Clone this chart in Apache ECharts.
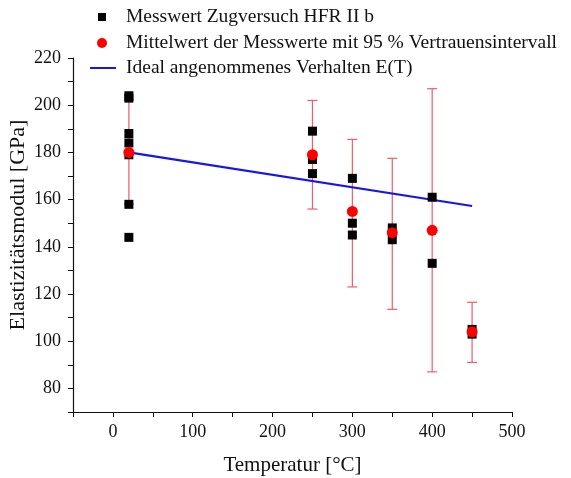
<!DOCTYPE html>
<html><head><meta charset="utf-8">
<script src="https://cdn.jsdelivr.net/npm/echarts@6/dist/echarts.min.js"></script>
<style>html,body{margin:0;padding:0;background:#fff}#c{width:571px;height:478px}</style>
</head><body><div id="c"></div>
<script>
var measTemp = [20,20,20,20,20,20,20, 250,250,250,250, 300,300,300, 350,350, 400,400, 450,450];
var measE    = [204,203,188,184,179,158,144, 189,177,178,171, 169,150,145, 148,143, 161,133, 105,103];
var meanTemp = [20,250,300,350,400,450];
var meanE    = [180,179,155,146,147,104];
var ciLow    = [158,156,123,113.5,87,91];
var ciHigh   = [202,202,185.5,177.5,207,116.5];
var idealTemp = [20,450];
var idealE    = [180,157.3];
var xTicks = [0,100,200,300,400,500];
var yTicks = [80,100,120,140,160,180,200,220];

var names = ['Messwert Zugversuch HFR II b','Mittelwert der Messwerte mit 95 % Vertrauensintervall','Ideal angenommenes Verhalten E(T)'];
var FONT = 'Liberation Serif';
var chart = echarts.init(document.getElementById('c'));
function ts(p){return {fontFamily:FONT,fontSize:19.5,color:'#111',padding:[0,0,0,p]};}
var legendBase = {orient:'vertical', itemGap:0};
chart.setOption({
  animation:false,
  backgroundColor:'#fff',
  legend:[
    Object.assign({}, legendBase, {top:2, left:93, data:[{name:names[0],icon:'rect'}], itemWidth:8, itemHeight:8, textStyle:ts(15)}),
    Object.assign({}, legendBase, {top:28, left:92, data:[{name:names[1],icon:'circle'}], itemWidth:10, itemHeight:10, textStyle:ts(14)}),
    Object.assign({}, legendBase, {top:53, left:85, data:[{name:names[2],icon:'rect'}], itemWidth:26, itemHeight:2, textStyle:ts(5)})
  ],
  grid:{left:73, right:59, top:58, bottom:66, containLabel:false, outerBoundsMode:'none'},
  xAxis:{
    type:'value', min:-50, max:500, interval:50,
    name:'Temperatur [°C]', nameLocation:'middle', nameGap:43,
    nameTextStyle:{fontFamily:FONT,fontSize:21,color:'#111'},
    axisLine:{show:true,onZero:false,lineStyle:{color:'#111',width:1.2}},
    axisTick:{show:true,length:5,inside:false,lineStyle:{color:'#111'}},
    splitLine:{show:false},
    axisLabel:{fontFamily:FONT,fontSize:18,color:'#111',margin:11,
      formatter:function(v){return xTicks.indexOf(v)>=0? String(v):'';}}
  },
  yAxis:{
    type:'value', min:70, max:220, interval:10,
    name:'Elastizitätsmodul [GPa]', nameLocation:'middle', nameGap:44, nameMoveOverlap:false,
    nameTextStyle:{fontFamily:FONT,fontSize:22,color:'#111',padding:[0,0,0,20]},
    axisLine:{show:true,onZero:false,lineStyle:{color:'#111',width:1.2}},
    axisTick:{show:true,length:5,inside:false,lineStyle:{color:'#111'}},
    splitLine:{show:false},
    axisLabel:{fontFamily:FONT,fontSize:18,color:'#111',margin:12,
      formatter:function(v){return yTicks.indexOf(v)>=0? String(v):'';}}
  },
  series:[
    {
      type:'custom', name:'ci', silent:true, z:2,
      data: meanTemp.map(function(t,i){return [t, ciLow[i], ciHigh[i]];}),
      renderItem:function(params, api){
        var x = api.value(0);
        var lo = api.coord([x, api.value(1)]);
        var hi = api.coord([x, api.value(2)]);
        var w = 5;
        var st = {stroke:'#f25a6a', lineWidth:1.2};
        return {type:'group', children:[
          {type:'line', shape:{x1:lo[0],y1:lo[1],x2:hi[0],y2:hi[1]}, style:st},
          {type:'line', shape:{x1:lo[0]-w,y1:lo[1],x2:lo[0]+w,y2:lo[1]}, style:st},
          {type:'line', shape:{x1:hi[0]-w,y1:hi[1],x2:hi[0]+w,y2:hi[1]}, style:st}
        ]};
      }
    },
    {
      type:'line', name:names[2], z:3,
      data: idealTemp.map(function(t,i){return [t, idealE[i]];}),
      symbol:'none', lineStyle:{color:'#1515f0', width:2.2}, itemStyle:{color:'#1515f0'}
    },
    {
      type:'scatter', name:names[0], z:4,
      data: measTemp.map(function(t,i){return [t, measE[i]];}),
      symbol:'rect', symbolSize:9, itemStyle:{color:'#000', opacity:1}
    },
    {
      type:'scatter', name:names[1], z:5,
      data: meanTemp.map(function(t,i){return [t, meanE[i]];}),
      symbol:'circle', symbolSize:11, itemStyle:{color:'#f00', opacity:1}
    }
  ]
});
</script></body></html>
